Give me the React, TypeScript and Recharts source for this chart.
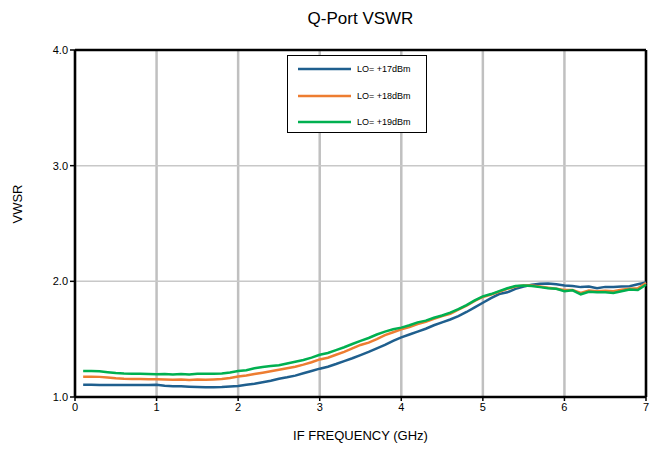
import React from 'react';
import {
  LineChart,
  Line,
  XAxis,
  YAxis,
  CartesianGrid,
  ReferenceLine,
} from 'recharts';

const freqs = [
  0.1, 0.2, 0.3, 0.4, 0.5, 0.6, 0.7, 0.8, 0.9, 1.0,
  1.1, 1.2, 1.3, 1.4, 1.5, 1.6, 1.7, 1.8, 1.9, 2.0,
  2.1, 2.2, 2.3, 2.4, 2.5, 2.6, 2.7, 2.8, 2.9, 3.0,
  3.1, 3.2, 3.3, 3.4, 3.5, 3.6, 3.7, 3.8, 3.9, 4.0,
  4.1, 4.2, 4.3, 4.4, 4.5, 4.6, 4.7, 4.8, 4.9, 5.0,
  5.1, 5.2, 5.3, 5.4, 5.5, 5.6, 5.7, 5.8, 5.9, 6.0,
  6.1, 6.2, 6.3, 6.4, 6.5, 6.6, 6.7, 6.8, 6.9, 7.0,
];

const lo17 = [
  1.105, 1.105, 1.104, 1.104, 1.103, 1.103, 1.103, 1.104, 1.104, 1.105,
  1.098, 1.094, 1.092, 1.089, 1.087, 1.085, 1.085, 1.086, 1.09, 1.095,
  1.105, 1.115, 1.128, 1.14, 1.158, 1.17, 1.185, 1.205, 1.225, 1.245,
  1.262, 1.285, 1.31, 1.335, 1.362, 1.39, 1.42, 1.45, 1.485, 1.515,
  1.54, 1.565, 1.59, 1.62, 1.645, 1.67, 1.7, 1.735, 1.775, 1.815,
  1.855, 1.89, 1.905, 1.935, 1.955, 1.97, 1.98, 1.982, 1.975, 1.965,
  1.96, 1.95, 1.955, 1.94, 1.952, 1.95, 1.955, 1.958, 1.975, 1.99,
];

const lo18 = [
  1.175, 1.176, 1.174, 1.168, 1.162, 1.158, 1.156, 1.155, 1.154, 1.153,
  1.152, 1.15, 1.152, 1.148, 1.151, 1.15, 1.152, 1.155, 1.165, 1.178,
  1.185, 1.198, 1.21, 1.222, 1.235, 1.248, 1.262, 1.28, 1.3, 1.325,
  1.34, 1.365, 1.39, 1.42, 1.45, 1.47, 1.5, 1.535, 1.56, 1.585,
  1.605, 1.63, 1.65, 1.675, 1.7, 1.72, 1.755, 1.79, 1.83, 1.865,
  1.885, 1.91, 1.935, 1.955, 1.965, 1.965, 1.955, 1.945, 1.935, 1.925,
  1.925, 1.9, 1.92, 1.915, 1.918, 1.915, 1.928, 1.935, 1.94, 1.985,
];

const lo19 = [
  1.225, 1.224, 1.222, 1.215, 1.208, 1.204, 1.202, 1.2, 1.198, 1.196,
  1.198, 1.195, 1.199, 1.194, 1.2, 1.2, 1.201, 1.203, 1.212, 1.225,
  1.232, 1.248, 1.26, 1.268, 1.275, 1.29, 1.305, 1.32, 1.34, 1.365,
  1.38, 1.405, 1.43, 1.458, 1.485, 1.51, 1.54, 1.565, 1.585, 1.6,
  1.62, 1.645, 1.66, 1.685, 1.705, 1.73, 1.76, 1.795, 1.835, 1.87,
  1.89, 1.915, 1.94, 1.96, 1.965, 1.96, 1.95, 1.94, 1.935, 1.915,
  1.922, 1.888, 1.91, 1.905, 1.905, 1.9, 1.915, 1.93, 1.925, 1.97,
];

const xTicks = [0, 1, 2, 3, 4, 5, 6, 7];
const yTicks = [1, 2, 3, 4];

const seriesInfo = [
  { key: 'lo17', name: 'LO= +17dBm', color: '#1f5f8e' },
  { key: 'lo18', name: 'LO= +18dBm', color: '#ed7d31' },
  { key: 'lo19', name: 'LO= +19dBm', color: '#00b050' },
];

const data = freqs.map((f, i) => ({
  f,
  lo17: lo17[i],
  lo18: lo18[i],
  lo19: lo19[i],
}));

const FONT = '"Liberation Sans", Arial, sans-serif';

// legend box sits over the plot, so it is drawn as an overlay
const LegendBox = () => (
  <div
    style={{
      position: 'absolute',
      left: 287,
      top: 55,
      width: 140,
      height: 78,
      border: '1px solid #000',
      background: '#fff',
      fontFamily: FONT,
      fontSize: 9,
      color: '#000',
      boxSizing: 'border-box',
    }}
  >
    {seriesInfo.map((s, i) => (
      <div
        key={s.key}
        style={{
          position: 'absolute',
          left: 10,
          top: 8 + i * 26.5,
          display: 'flex',
          alignItems: 'center',
          lineHeight: '10px',
        }}
      >
        <svg width={53} height={6}>
          <line x1={0} y1={3} x2={53} y2={3} stroke={s.color} strokeWidth={2.5} />
        </svg>
        <span style={{ marginLeft: 6 }}>{s.name}</span>
      </div>
    ))}
  </div>
);

const App: React.FC = () => {
  return (
    <div style={{ position: 'absolute', left: 0, top: 0, width: 653, height: 449, background: '#fff' }}>
      <div
        style={{
          position: 'absolute',
          left: 75,
          width: 571,
          top: 9,
          textAlign: 'center',
          fontFamily: FONT,
          fontSize: 17,
          color: '#000',
        }}
      >
        Q-Port VSWR
      </div>
      <LineChart
        width={653}
        height={449}
        data={data}
        margin={{ top: 50, right: 7, bottom: 7, left: 30 }}
      >
        <CartesianGrid horizontal={false} stroke="#c0c0c0" strokeWidth={2.5} />
        <CartesianGrid vertical={false} stroke="#c8c8c8" strokeWidth={1.5} />
        <XAxis
          dataKey="f"
          type="number"
          domain={[0, 7]}
          ticks={xTicks}
          height={45}
          axisLine={{ stroke: '#000', strokeWidth: 2.5 }}
          tickLine={{ stroke: '#000', strokeWidth: 1.5 }}
          tickSize={4}
          tick={{ fill: '#000', fontSize: 11, fontFamily: FONT }}
          label={{
            value: 'IF FREQUENCY (GHz)',
            position: 'insideBottom',
            offset: 2,
            fill: '#000',
            fontSize: 13,
            fontFamily: FONT,
          }}
        />
        <YAxis
          type="number"
          domain={[1, 4]}
          ticks={yTicks}
          width={45}
          allowDataOverflow
          tickFormatter={(v: number) => v.toFixed(1)}
          axisLine={{ stroke: '#000', strokeWidth: 2.5 }}
          tickLine={{ stroke: '#000', strokeWidth: 1.5 }}
          tickSize={5}
          tick={{ fill: '#000', fontSize: 11, fontFamily: FONT }}
          label={{
            value: 'VWSR',
            angle: -90,
            position: 'insideLeft',
            offset: -13,
            fill: '#000',
            fontSize: 13,
            fontFamily: FONT,
          }}
        />
        <ReferenceLine y={4} stroke="#000" strokeWidth={2.5} />
        <ReferenceLine x={7} stroke="#000" strokeWidth={2.5} />
        {seriesInfo.map((s) => (
          <Line
            key={s.key}
            type="linear"
            dataKey={s.key}
            name={s.name}
            stroke={s.color}
            strokeWidth={2.5}
            dot={false}
            isAnimationActive={false}
          />
        ))}
      </LineChart>
      <LegendBox />
    </div>
  );
};

export default App;
